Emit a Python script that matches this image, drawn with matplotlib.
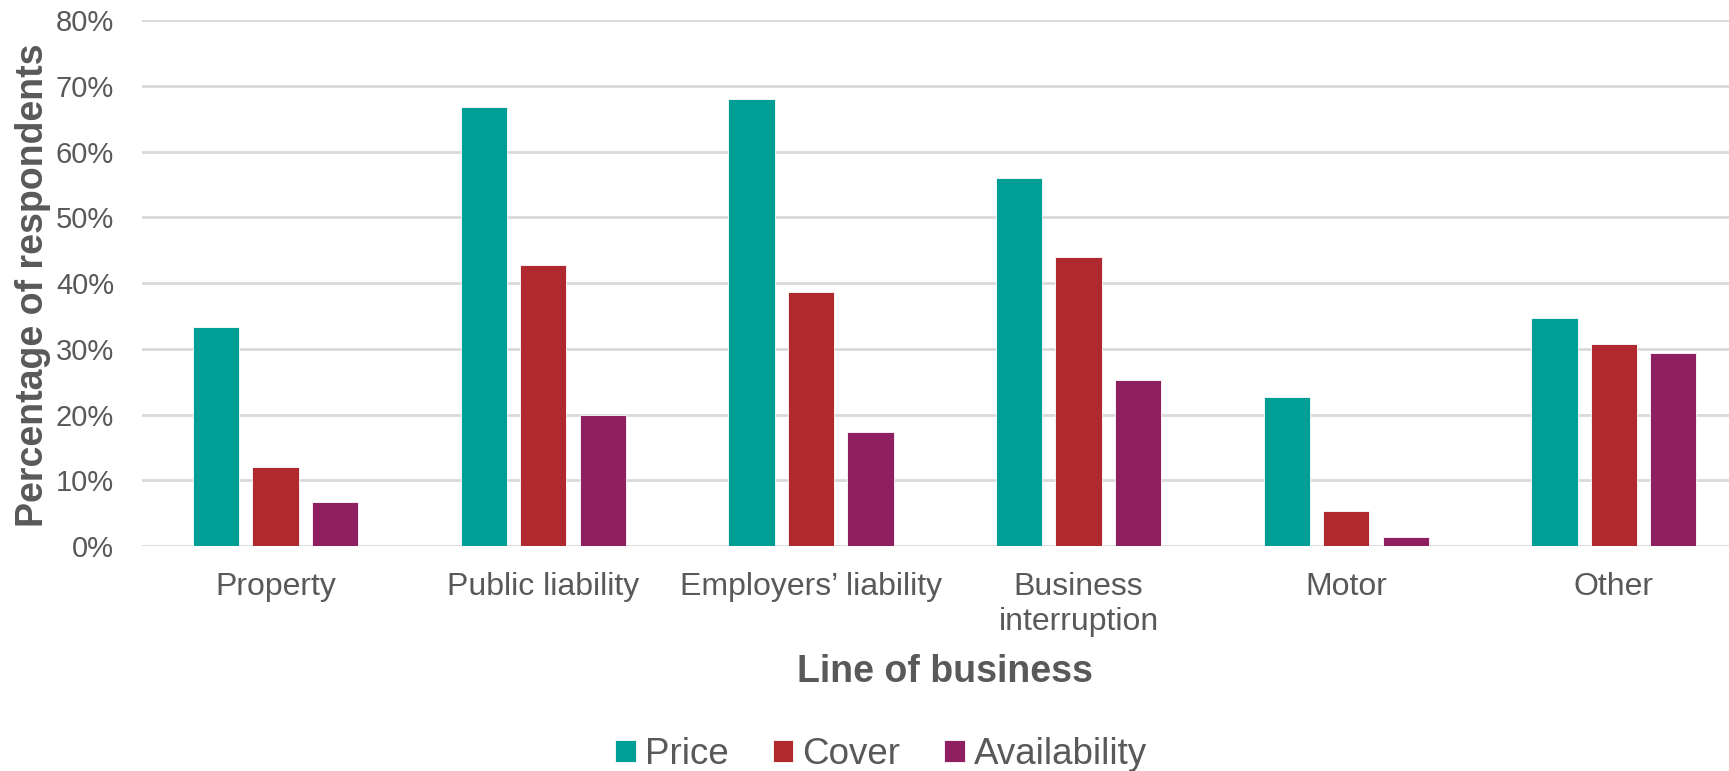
import numpy as np
import matplotlib.pyplot as plt
from matplotlib.ticker import PercentFormatter

plt.rcParams['font.family'] = ['Liberation Sans', 'DejaVu Sans']

categories = ['Property', 'Public liability', 'Employers\u2019 liability',
              'Business\ninterruption', 'Motor', 'Other']
series = ['Price', 'Cover', 'Availability']
price = [33.3, 66.7, 68.0, 56.0, 22.7, 34.7]
cover = [12.0, 42.7, 38.7, 44.0, 5.3, 30.7]
availability = [6.7, 20.0, 17.3, 25.3, 1.3, 29.3]
colors = ['#009E94', '#B0292E', '#901F62']

grey = '#595959'
fig = plt.figure(figsize=(17.29, 7.71), dpi=100)
ax = fig.add_axes([0.082, 0.2918, 0.918, 0.6822])

x = np.arange(len(categories))
width = 0.173
pitch = 0.222
for i, (name, vals) in enumerate(zip(series, [price, cover, availability])):
    ax.bar(x + (i - 1) * pitch, np.array(vals) / 100, width, color=colors[i],
           label=name, zorder=3, edgecolor='white', linewidth=0.6)

ax.set_xlim(-0.5, 5.43)
ax.set_ylim(0, 0.8)
ax.set_yticks(np.arange(0, 0.81, 0.1))
ax.yaxis.set_major_formatter(PercentFormatter(1.0, decimals=0))
ax.grid(axis='y', color='#d9d9d9', linewidth=2, zorder=0)
for s in ax.spines.values():
    s.set_visible(False)
ax.tick_params(axis='y', length=0, labelsize=21, colors=grey, pad=20)
ax.set_xticks(x)
ax.set_xticklabels(categories, linespacing=1.25)
ax.tick_params(axis='x', length=0, labelsize=23, colors=grey, pad=18.5)

fig.text(0.019, 0.63, 'Percentage of respondents', rotation=90, fontsize=27,
         fontweight='bold', color=grey, ha='center', va='center')
fig.text(0.5466, 0.128, 'Line of business', fontsize=27, fontweight='bold',
         color=grey, ha='center', va='center')

fig.legend(loc='center', bbox_to_anchor=(0.5096, 0.021), ncol=3,
           frameon=False, fontsize=26.5, labelcolor=grey, handlelength=0.55,
           handleheight=0.55, handletextpad=0.25, columnspacing=1.2)

fig.savefig('out.png', dpi=100)
